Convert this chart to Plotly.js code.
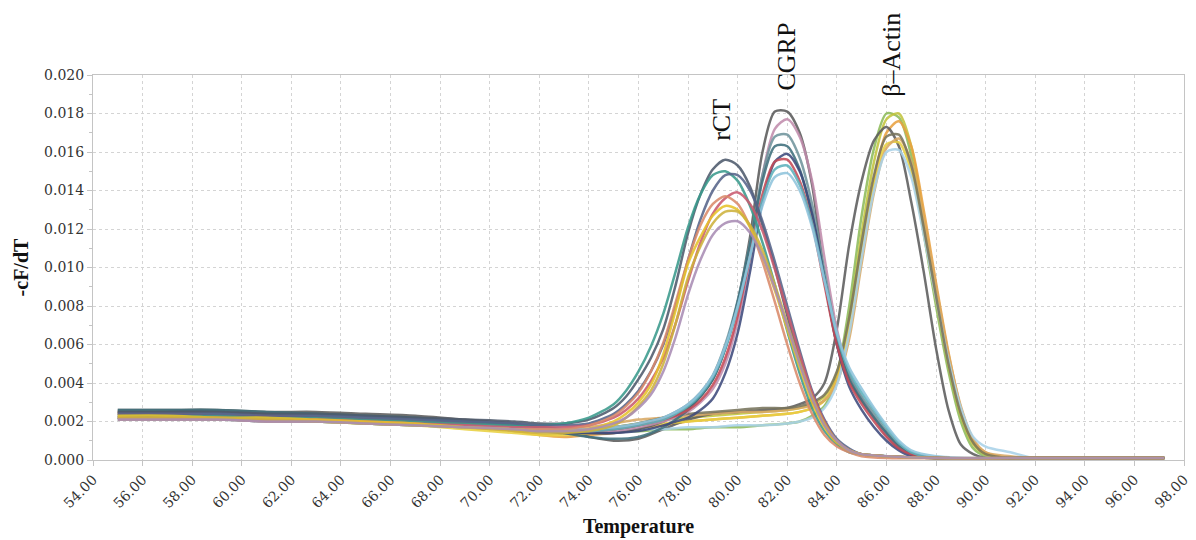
<!DOCTYPE html>
<html>
<head>
<meta charset="utf-8">
<script src="https://cdn.plot.ly/plotly-3.0.1.min.js"></script>
<style>html,body{margin:0;padding:0;background:#fff;}#chart{width:1196px;height:540px;}</style>
</head>
<body>
<div id="chart"></div>
<script>
// Temperature grids (°C) for each amplicon group
const tempRCT = [55,57,59,61,63,65,67,69,71,72,73,74,75,75.5,76,76.5,77,77.5,78,78.5,79,79.5,80,80.5,81,81.5,82,82.5,83,83.5,84,84.5,85,86,88,91,94,97.2];
const tempCGRP = [55,57,59,61,63,65,67,69,71,72,73,74,75,76,77,77.5,78,78.5,79,79.5,80,80.5,81,81.5,82,82.5,83,83.5,84,84.5,85,85.5,86,86.5,87,88,91,94,97.2];
const tempActin = [55,57,59,61,63,65,67,69,71,72,73,74,75,76,77,78,79,80,81,82,82.5,83,83.5,84,84.5,85,85.5,86,86.5,87,87.5,88,88.5,89,89.5,90,91,92,94,97.2];

// rCT melt curves (-cF/dT)
const rct1 = [0.0025,0.0025,0.0025,0.0024,0.0024,0.0023,0.0022,0.0021,0.0020,0.0019,0.0019,0.0021,0.0027,0.0033,0.0042,0.0053,0.0068,0.0091,0.0118,0.0138,0.0151,0.0156,0.0153,0.0142,0.0122,0.0100,0.0075,0.0052,0.0032,0.0018,0.0009,0.0005,0.0003,0.0002,0.0001,0.0001,0.0001,0.0001];
const rct2 = [0.0023,0.0023,0.0023,0.0022,0.0022,0.0021,0.0020,0.0019,0.0018,0.0018,0.0019,0.0022,0.0029,0.0036,0.0046,0.0059,0.0076,0.0098,0.0121,0.0138,0.0148,0.0150,0.0145,0.0132,0.0113,0.0091,0.0067,0.0045,0.0027,0.0015,0.0008,0.0004,0.0003,0.0002,0.0001,0.0001,0.0001,0.0001];
const rct3 = [0.0024,0.0024,0.0024,0.0023,0.0023,0.0022,0.0021,0.0020,0.0019,0.0018,0.0018,0.0019,0.0024,0.0029,0.0036,0.0046,0.0060,0.0080,0.0104,0.0125,0.0140,0.0148,0.0148,0.0140,0.0124,0.0103,0.0080,0.0057,0.0036,0.0021,0.0011,0.0006,0.0003,0.0002,0.0001,0.0001,0.0001,0.0001];
const rct4 = [0.0022,0.0022,0.0022,0.0021,0.0021,0.0020,0.0019,0.0018,0.0017,0.0017,0.0017,0.0018,0.0022,0.0026,0.0032,0.0041,0.0053,0.0071,0.0093,0.0113,0.0128,0.0136,0.0139,0.0133,0.0119,0.0099,0.0077,0.0055,0.0035,0.0020,0.0010,0.0005,0.0003,0.0002,0.0001,0.0001,0.0001,0.0001];
const rct5 = [0.0021,0.0021,0.0021,0.0020,0.0020,0.0019,0.0018,0.0017,0.0016,0.0016,0.0016,0.0018,0.0023,0.0028,0.0035,0.0046,0.0061,0.0082,0.0104,0.0122,0.0133,0.0137,0.0133,0.0121,0.0103,0.0082,0.0060,0.0040,0.0024,0.0013,0.0007,0.0004,0.0002,0.0001,0.0001,0.0001,0.0001,0.0001];
const rct6 = [0.0023,0.0023,0.0022,0.0022,0.0021,0.0020,0.0019,0.0017,0.0016,0.0015,0.0015,0.0016,0.0020,0.0024,0.0030,0.0039,0.0055,0.0078,0.0102,0.0116,0.0127,0.0132,0.0130,0.0121,0.0106,0.0088,0.0068,0.0048,0.0030,0.0017,0.0009,0.0005,0.0003,0.0002,0.0001,0.0001,0.0001,0.0001];
const rct7 = [0.0022,0.0022,0.0022,0.0021,0.0020,0.0019,0.0018,0.0017,0.0015,0.0014,0.0014,0.0015,0.0018,0.0022,0.0028,0.0036,0.0050,0.0071,0.0095,0.0111,0.0123,0.0129,0.0129,0.0122,0.0109,0.0091,0.0071,0.0051,0.0033,0.0019,0.0010,0.0005,0.0003,0.0002,0.0001,0.0001,0.0001,0.0001];
const rct8 = [0.0021,0.0021,0.0021,0.0020,0.0020,0.0019,0.0018,0.0017,0.0016,0.0015,0.0015,0.0016,0.0019,0.0022,0.0027,0.0034,0.0046,0.0064,0.0086,0.0104,0.0117,0.0123,0.0124,0.0118,0.0106,0.0089,0.0070,0.0050,0.0032,0.0018,0.0010,0.0005,0.0003,0.0002,0.0001,0.0001,0.0001,0.0001];

// CGRP melt curves
const cgrp1 = [0.0025,0.0025,0.0025,0.0024,0.0023,0.0022,0.0021,0.0019,0.0017,0.0016,0.0015,0.0014,0.0014,0.0016,0.0020,0.0023,0.0027,0.0033,0.0042,0.0058,0.0082,0.0116,0.0160,0.0181,0.0181,0.0170,0.0143,0.0095,0.0060,0.0041,0.0031,0.0022,0.0013,0.0006,0.0003,0.0001,0.0001,0.0001,0.0001];
const cgrp2 = [0.0023,0.0023,0.0023,0.0022,0.0022,0.0021,0.0020,0.0018,0.0017,0.0016,0.0015,0.0015,0.0015,0.0017,0.0020,0.0022,0.0025,0.0030,0.0037,0.0050,0.0072,0.0105,0.0148,0.0172,0.0177,0.0168,0.0145,0.0105,0.0068,0.0045,0.0032,0.0022,0.0013,0.0007,0.0003,0.0001,0.0001,0.0001,0.0001];
const cgrp3 = [0.0024,0.0024,0.0024,0.0023,0.0023,0.0022,0.0021,0.0019,0.0018,0.0017,0.0016,0.0015,0.0016,0.0018,0.0022,0.0025,0.0029,0.0035,0.0044,0.0060,0.0083,0.0113,0.0148,0.0168,0.0169,0.0157,0.0133,0.0098,0.0065,0.0044,0.0033,0.0024,0.0015,0.0008,0.0004,0.0001,0.0001,0.0001,0.0001];
const cgrp4 = [0.0026,0.0026,0.0026,0.0025,0.0024,0.0023,0.0022,0.0020,0.0018,0.0016,0.0014,0.0012,0.0011,0.0012,0.0017,0.0021,0.0026,0.0033,0.0042,0.0058,0.0082,0.0112,0.0145,0.0163,0.0163,0.0151,0.0127,0.0094,0.0062,0.0042,0.0031,0.0022,0.0014,0.0007,0.0003,0.0001,0.0001,0.0001,0.0001];
const cgrp5 = [0.0022,0.0022,0.0022,0.0021,0.0021,0.0020,0.0019,0.0018,0.0016,0.0015,0.0014,0.0014,0.0014,0.0015,0.0018,0.0020,0.0022,0.0026,0.0032,0.0045,0.0066,0.0098,0.0134,0.0155,0.0159,0.0150,0.0128,0.0094,0.0060,0.0038,0.0026,0.0017,0.0010,0.0005,0.0002,0.0001,0.0001,0.0001,0.0001];
const cgrp6 = [0.0024,0.0024,0.0023,0.0023,0.0022,0.0021,0.0020,0.0019,0.0017,0.0016,0.0015,0.0015,0.0016,0.0018,0.0021,0.0023,0.0026,0.0031,0.0039,0.0053,0.0075,0.0106,0.0138,0.0155,0.0156,0.0145,0.0123,0.0091,0.0060,0.0040,0.0029,0.0020,0.0012,0.0006,0.0003,0.0001,0.0001,0.0001,0.0001];
const cgrp7 = [0.0021,0.0021,0.0021,0.0020,0.0020,0.0019,0.0018,0.0017,0.0016,0.0015,0.0015,0.0015,0.0016,0.0018,0.0021,0.0024,0.0028,0.0034,0.0043,0.0058,0.0079,0.0106,0.0135,0.0151,0.0153,0.0143,0.0123,0.0094,0.0065,0.0046,0.0035,0.0026,0.0017,0.0009,0.0004,0.0001,0.0001,0.0001,0.0001];
const cgrp8 = [0.0022,0.0022,0.0022,0.0021,0.0021,0.0020,0.0019,0.0018,0.0017,0.0016,0.0016,0.0016,0.0017,0.0019,0.0022,0.0025,0.0029,0.0035,0.0044,0.0059,0.0080,0.0106,0.0132,0.0147,0.0149,0.0140,0.0121,0.0093,0.0066,0.0048,0.0037,0.0027,0.0018,0.0010,0.0005,0.0002,0.0001,0.0001,0.0001];

// β-Actin melt curves
const act1 = [0.0022,0.0022,0.0021,0.0021,0.0020,0.0019,0.0018,0.0017,0.0016,0.0015,0.0015,0.0015,0.0015,0.0015,0.0016,0.0016,0.0017,0.0017,0.0018,0.0019,0.0020,0.0023,0.0028,0.0044,0.0080,0.0127,0.0162,0.0180,0.0178,0.0158,0.0118,0.0080,0.0046,0.0020,0.0006,0.0002,0.0001,0.0001,0.0001,0.0001];
const act2 = [0.0024,0.0024,0.0023,0.0023,0.0022,0.0021,0.0020,0.0018,0.0016,0.0015,0.0015,0.0016,0.0017,0.0019,0.0021,0.0022,0.0023,0.0024,0.0025,0.0026,0.0027,0.0029,0.0033,0.0045,0.0074,0.0118,0.0155,0.0177,0.0180,0.0163,0.0126,0.0087,0.0050,0.0023,0.0008,0.0003,0.0001,0.0001,0.0001,0.0001];
const act3 = [0.0023,0.0023,0.0023,0.0022,0.0021,0.0020,0.0019,0.0017,0.0015,0.0013,0.0012,0.0013,0.0014,0.0016,0.0018,0.0020,0.0021,0.0022,0.0023,0.0024,0.0025,0.0027,0.0031,0.0042,0.0068,0.0108,0.0146,0.0170,0.0176,0.0163,0.0130,0.0092,0.0056,0.0027,0.0010,0.0004,0.0001,0.0001,0.0001,0.0001];
const act4 = [0.0026,0.0026,0.0026,0.0025,0.0025,0.0024,0.0023,0.0021,0.0019,0.0017,0.0015,0.0012,0.0010,0.0011,0.0016,0.0021,0.0024,0.0025,0.0026,0.0027,0.0029,0.0032,0.0040,0.0068,0.0112,0.0145,0.0166,0.0173,0.0163,0.0134,0.0098,0.0058,0.0026,0.0008,0.0003,0.0001,0.0001,0.0001,0.0001,0.0001];
const act5 = [0.0022,0.0022,0.0022,0.0021,0.0020,0.0019,0.0018,0.0016,0.0014,0.0013,0.0013,0.0014,0.0016,0.0018,0.0019,0.0020,0.0021,0.0022,0.0023,0.0024,0.0025,0.0027,0.0031,0.0041,0.0068,0.0109,0.0144,0.0164,0.0165,0.0150,0.0118,0.0084,0.0050,0.0024,0.0009,0.0003,0.0001,0.0001,0.0001,0.0001];
const act6 = [0.0025,0.0025,0.0024,0.0024,0.0023,0.0022,0.0021,0.0019,0.0017,0.0016,0.0016,0.0017,0.0019,0.0021,0.0022,0.0023,0.0024,0.0025,0.0025,0.0026,0.0027,0.0028,0.0031,0.0040,0.0063,0.0102,0.0139,0.0162,0.0167,0.0155,0.0125,0.0090,0.0055,0.0028,0.0011,0.0004,0.0002,0.0001,0.0001,0.0001];
const act7 = [0.0021,0.0021,0.0021,0.0020,0.0020,0.0019,0.0018,0.0017,0.0016,0.0015,0.0015,0.0015,0.0015,0.0016,0.0016,0.0017,0.0017,0.0018,0.0018,0.0019,0.0020,0.0022,0.0027,0.0039,0.0066,0.0105,0.0140,0.0160,0.0161,0.0147,0.0117,0.0084,0.0052,0.0027,0.0012,0.0007,0.0004,0.0001,0.0001,0.0001];
const act8 = [0.0025,0.0025,0.0025,0.0024,0.0024,0.0023,0.0022,0.0020,0.0018,0.0017,0.0016,0.0016,0.0017,0.0019,0.0022,0.0024,0.0025,0.0026,0.0027,0.0027,0.0028,0.0030,0.0034,0.0046,0.0074,0.0113,0.0148,0.0168,0.0169,0.0153,0.0121,0.0085,0.0050,0.0024,0.0009,0.0003,0.0001,0.0001,0.0001,0.0001];

const rctCurves = [rct1, rct2, rct3, rct4, rct5, rct6, rct7, rct8];
const cgrpCurves = [cgrp1, cgrp2, cgrp3, cgrp4, cgrp5, cgrp6, cgrp7, cgrp8];
const actinCurves = [act1, act2, act3, act4, act5, act6, act7, act8];

const rctColors = ['#4d5a6c','#3a9a8c','#56648a','#c85a6e','#d98a6a','#e6c22a','#cdb23c','#a98cb4'];
const cgrpColors = ['#5a5a5a','#c08cac','#6f949c','#3f6f7c','#3d4a7c','#c44a56','#5db2bc','#8fc4dc'];
const actinColors = ['#8dbb5a','#c2c43e','#e8a040','#5c5c5c','#e8d040','#d8a864','#a8d2e8','#77745c'];

const yTickVals = [0,0.002,0.004,0.006,0.008,0.010,0.012,0.014,0.016,0.018,0.020];
const xTickVals = [54,56,58,60,62,64,66,68,70,72,74,76,78,80,82,84,86,88,90,92,94,96,98];

// Peak labels: x in °C, y as fraction of plot height (labels sit above the curves / plot frame)
const peakLabels = ['rCT','CGRP','β–Actin'];
const peakLabelX = [79.35, 81.95, 86.2];
const peakLabelY = [0.8825, 1.048, 1.0535];

const traces = [];
function addGroup(temps, curves, colors, name) {
  curves.forEach((c, i) => {
    traces.push({
      type: 'scatter', mode: 'lines', x: temps, y: c,
      name: name + ' ' + (i + 1),
      line: {color: colors[i], width: 2.5, shape: 'spline', smoothing: 0.8},
      opacity: 0.88, showlegend: false, hoverinfo: 'x+y+name'
    });
  });
}
addGroup(tempActin, actinCurves, actinColors, 'β-Actin');
addGroup(tempCGRP, cgrpCurves, cgrpColors, 'CGRP');
addGroup(tempRCT, rctCurves, rctColors, 'rCT');

const tickFont = {family: 'DejaVu Serif, serif', size: 14, color: '#333'};
const layout = {
  width: 1196, height: 540,
  margin: {l: 93, r: 12, t: 75, b: 80},
  paper_bgcolor: '#ffffff', plot_bgcolor: '#ffffff',
  showlegend: false,
  xaxis: {
    range: [54, 98], tickvals: xTickVals, tickformat: '.2f', tickangle: -45,
    tickfont: tickFont, showgrid: true, gridcolor: '#d4d4d4', griddash: 'dot', gridwidth: 1,
    zeroline: false, showline: true, linecolor: '#c4c4c4', linewidth: 1, mirror: true,
    ticks: 'outside', ticklen: 5, tickcolor: '#c4c4c4',
    title: {text: '<b>Temperature</b>', font: {family: 'Liberation Serif, serif', size: 20, color: '#111'}, standoff: 8}
  },
  yaxis: {
    range: [0, 0.020], tickvals: yTickVals, tickformat: '.3f',
    tickfont: tickFont, showgrid: true, gridcolor: '#d4d4d4', griddash: 'dot', gridwidth: 1,
    zeroline: false, showline: true, linecolor: '#c4c4c4', linewidth: 1, mirror: true,
    ticks: 'outside', ticklen: 5, tickcolor: '#c4c4c4',
    minor: {dtick: 0.001, ticklen: 3, tickcolor: '#c4c4c4', showgrid: false, ticks: 'outside'},
    title: {text: '<b>-cF/dT</b>', font: {family: 'Liberation Serif, serif', size: 20, color: '#111'}, standoff: 10}
  },
  annotations: peakLabels.map((t, i) => ({
    text: t, x: peakLabelX[i], y: peakLabelY[i], xref: 'x', yref: 'paper',
    xanchor: 'center', yanchor: 'middle',
    showarrow: false, textangle: -90,
    font: {family: 'Liberation Serif, serif', size: 26, color: '#111'}
  }))
};

Plotly.newPlot('chart', traces, layout, {staticPlot: true, displayModeBar: false});
</script>
</body>
</html>
